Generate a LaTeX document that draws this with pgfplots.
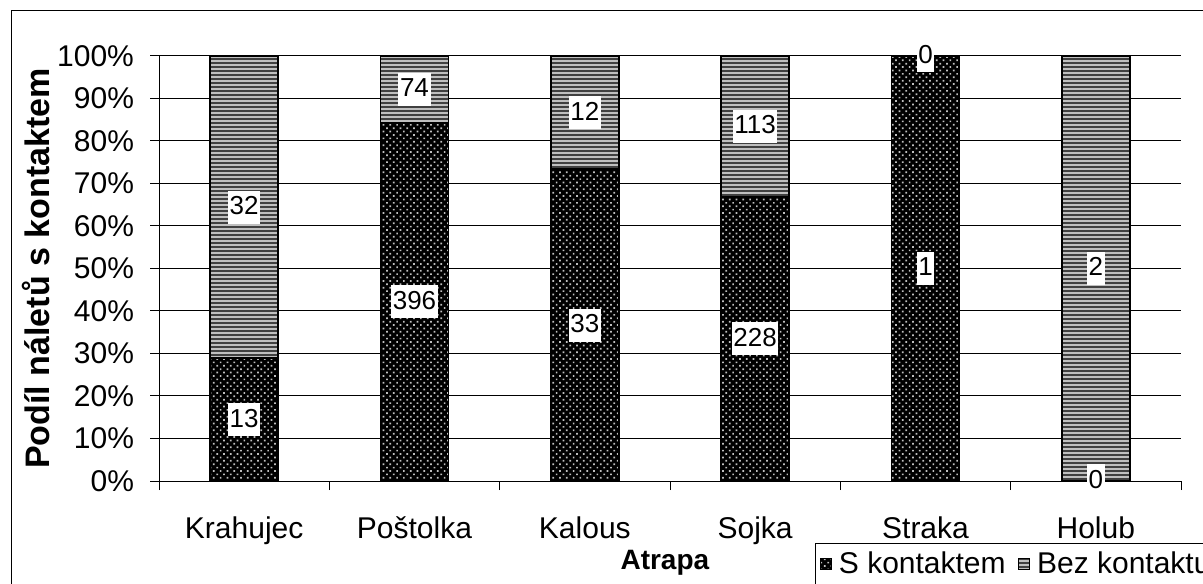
\documentclass[border=0pt]{standalone}
\usepackage{fontspec}
\setmainfont{Liberation Sans}
\usepackage{pgfplots}
\pgfplotsset{compat=1.18}
\usepackage{pgfplotstable}
\usetikzlibrary{patterns.meta}

% x = category index, pct = share in %, mid = centre of the segment, cnt = number of flights
\pgfplotstableread{
x pct mid cnt
0 28.889 14.444 13
1 84.255 42.128 396
2 73.333 36.667 33
3 66.862 33.431 228
4 100 50 1
5 0 0 0
}\withc
\pgfplotstableread{
x pct mid cnt
0 71.111 64.444 32
1 15.745 92.128 74
2 26.667 86.667 12
3 33.138 83.431 113
4 0 100 0
5 100 50 2
}\withoutc

\tikzset{
  skstyle/.style={draw=black, line width=0.9pt, fill=black,
    postaction={pattern={Dots[angle=45,distance=2.4pt,radius=0.6pt]}, pattern color=black!25}},
  bkstyle/.style={draw=black, line width=0.9pt, fill=black!25,
    postaction={pattern={Lines[angle=0,distance=2pt,line width=0.9pt]}, pattern color=black!75}},
}
\pgfplotsset{
  common/.style={
    at={(79.5pt,51pt)}, anchor=south west, scale only axis,
    width=511pt, height=212.5pt,
    xmin=-0.5, xmax=5.5, ymin=0, ymax=100,
  },
}

\begin{document}
\begin{tikzpicture}
\useasboundingbox (0,0) rectangle (601.5pt,291.5pt);
\clip (0,0) rectangle (601.5pt,291.5pt);
\draw[line width=0.5pt, black] (5.5pt,-10pt) rectangle (620pt,286pt);
\begin{axis}[
  common,
  ybar stacked, bar width=0.4,
  axis x line*=bottom, axis y line*=left,
  axis line style={line width=0.5pt, black},
  xtick={-0.5,0.5,...,5.5},
  x tick label as interval,
  xticklabels={Krahujec,Poštolka,Kalous,Sojka,Straka,Holub},
  ytick={0,10,...,100},
  yticklabels={0\%,10\%,20\%,30\%,40\%,50\%,60\%,70\%,80\%,90\%,100\%},
  tick align=outside, major tick length=4.5pt,
  tick style={black, line width=0.5pt},
  ymajorgrids, grid style={black, line width=0.5pt},
  ticklabel style={font=\fontsize{15}{18}\selectfont},
  xticklabel style={anchor=base, yshift=-24pt},
  yticklabel style={anchor=east, xshift=-4.5pt},
  /pgf/number format/assume math mode=true,
  ylabel={Podíl náletů s kontaktem},
  ylabel style={at={(axis description cs:-0.1205,0.5)}, anchor=center,
    font=\bfseries\fontsize{17}{20}\selectfont},
  xlabel={Atrapa},
  xlabel style={at={(axis description cs:0.495,-0.2094)}, anchor=base,
    font=\bfseries\fontsize{14}{17}\selectfont},
  legend columns=2,
  legend style={at={(axis description cs:0.6419,-0.1459)}, anchor=north west,
    draw=black, line width=0.5pt, font=\fontsize{15}{18}\selectfont,
    inner xsep=2pt, inner ysep=2pt,
    /tikz/every even column/.append style={column sep=4pt}},
  legend image code/.code={\draw[#1, line width=0.5pt] (0pt,-2.75pt) rectangle (5.5pt,2.75pt); \path (7pt,0pt);},
]
\addplot[skstyle] table[x=x, y=pct] {\withc};
\addplot[bkstyle] table[x=x, y=pct] {\withoutc};
\legend{S kontaktem, Bez kontaktu}
\end{axis}
\begin{axis}[
  common, hide axis, clip=false,
  point meta=explicit symbolic,
  nodes near coords,
  every node near coord/.append style={anchor=center, fill=white, text=black,
    font=\fontsize{13}{15}\selectfont, inner xsep=0.8pt, inner ysep=2.5pt,
    text height=9.5pt, text depth=2pt},
]
\addplot[draw=none, mark=none, only marks] table[x=x, y=mid, meta=cnt] {\withc};
\addplot[draw=none, mark=none, only marks] table[x=x, y=mid, meta=cnt] {\withoutc};
\end{axis}
\end{tikzpicture}
\end{document}
